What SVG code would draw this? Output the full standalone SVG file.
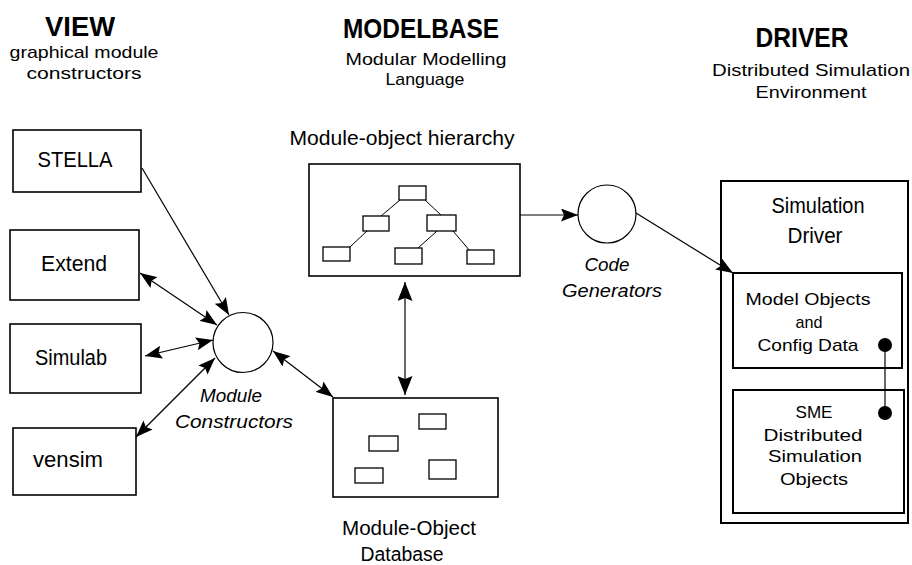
<svg xmlns="http://www.w3.org/2000/svg" width="912" height="565" viewBox="0 0 912 565">
<style>
text{font-family:"Liberation Sans",Arial,sans-serif;fill:#000;text-anchor:middle}
.h{font-weight:bold;font-size:28px}
.s{font-size:17px}
.n{font-size:22px}
.l{font-size:20px}
.i{font-size:18px;font-style:italic}
.d{font-size:17px}
.box{fill:#fff;stroke:#000;stroke-width:1.6}
.dbox{fill:#fff;stroke:#000;stroke-width:2}
.sm{fill:#fff;stroke:#000;stroke-width:1.3}
.circ{fill:#fff;stroke:#000;stroke-width:1.2}
.c{stroke:#000;stroke-width:1.2;fill:none}
.t{stroke:#000;stroke-width:1}
</style>
<defs>
<marker id="ah" markerUnits="userSpaceOnUse" markerWidth="18" markerHeight="13" refX="17" refY="6.5" orient="auto-start-reverse"><path d="M0,0 L17,6.5 L0,13 L3,6.5 z" fill="#000"/></marker>
<marker id="ahb" markerUnits="userSpaceOnUse" markerWidth="20" markerHeight="15" refX="19" refY="7.5" orient="auto-start-reverse"><path d="M0,0 L19,7.5 L0,15 L3,7.5 z" fill="#000"/></marker>
</defs>

<g id="headers">
<text class="h" x="80" y="36" textLength="70" lengthAdjust="spacingAndGlyphs">VIEW</text>
<text class="s" x="84" y="58" textLength="149" lengthAdjust="spacingAndGlyphs">graphical module</text>
<text class="s" x="84" y="79" textLength="115" lengthAdjust="spacingAndGlyphs">constructors</text>
<text class="h" x="421" y="38" textLength="156" lengthAdjust="spacingAndGlyphs">MODELBASE</text>
<text class="s" x="426" y="65" textLength="161" lengthAdjust="spacingAndGlyphs">Modular Modelling</text>
<text class="s" x="425" y="85" textLength="79" lengthAdjust="spacingAndGlyphs">Language</text>
<text class="h" x="802" y="47" textLength="93" lengthAdjust="spacingAndGlyphs">DRIVER</text>
<text class="s" x="811" y="76" textLength="198" lengthAdjust="spacingAndGlyphs">Distributed Simulation</text>
<text class="s" x="811" y="98" textLength="111" lengthAdjust="spacingAndGlyphs">Environment</text>
</g>

<g id="stella"><rect class="box" x="13" y="130" width="128" height="62"/><text class="n" x="75" y="167" textLength="75" lengthAdjust="spacingAndGlyphs">STELLA</text></g>
<g id="extend"><rect class="box" x="10" y="230" width="129" height="70"/><text class="n" x="74" y="271" textLength="66" lengthAdjust="spacingAndGlyphs">Extend</text></g>
<g id="simulab"><rect class="box" x="10" y="324" width="131" height="69"/><text class="n" x="71" y="365" textLength="72" lengthAdjust="spacingAndGlyphs">Simulab</text></g>
<g id="vensim"><rect class="box" x="13" y="428" width="123" height="67"/><text class="n" x="68" y="467" textLength="70" lengthAdjust="spacingAndGlyphs">vensim</text></g>

<g id="module-constructors">
<circle class="circ" cx="243" cy="342.5" r="30"/>
<text class="i" x="231" y="402" textLength="62" lengthAdjust="spacingAndGlyphs">Module</text>
<text class="i" x="234" y="428" textLength="118" lengthAdjust="spacingAndGlyphs">Constructors</text>
</g>

<g id="hierarchy">
<text class="l" x="402" y="145" textLength="225" lengthAdjust="spacingAndGlyphs">Module-object hierarchy</text>
<rect class="box" x="309" y="164" width="211" height="112"/>
<g class="t">
<line x1="400" y1="200" x2="381" y2="216"/>
<line x1="425" y1="200" x2="441" y2="215"/>
<line x1="367" y1="231" x2="350" y2="247"/>
<line x1="437" y1="231" x2="418" y2="248"/>
<line x1="453" y1="231" x2="470" y2="251"/>
</g>
<rect class="sm" x="399" y="186" width="27" height="14"/>
<rect class="sm" x="363" y="216" width="26" height="15"/>
<rect class="sm" x="427" y="215" width="29" height="16"/>
<rect class="sm" x="323" y="247" width="27" height="14"/>
<rect class="sm" x="395" y="248" width="27" height="16"/>
<rect class="sm" x="467" y="250" width="27" height="14"/>
</g>

<g id="database">
<rect class="box" x="333" y="398" width="165" height="99"/>
<rect class="sm" x="419" y="414" width="27" height="15"/>
<rect class="sm" x="369" y="436" width="29" height="15"/>
<rect class="sm" x="355" y="468" width="28" height="15"/>
<rect class="sm" x="429" y="460" width="27" height="19"/>
<text class="l" x="409" y="535" textLength="134" lengthAdjust="spacingAndGlyphs">Module-Object</text>
<text class="l" x="402" y="561" textLength="83" lengthAdjust="spacingAndGlyphs">Database</text>
</g>

<g id="code-generators">
<circle class="circ" cx="607" cy="214" r="29"/>
<text class="i" x="607" y="271" textLength="45" lengthAdjust="spacingAndGlyphs">Code</text>
<text class="i" x="612" y="297" textLength="100" lengthAdjust="spacingAndGlyphs">Generators</text>
</g>

<g id="simulation-driver">
<rect class="dbox" x="721" y="181" width="187" height="342"/>
<text class="n" x="818" y="213" font-size="21" textLength="93" lengthAdjust="spacingAndGlyphs">Simulation</text>
<text class="n" x="815" y="243" font-size="21" textLength="55" lengthAdjust="spacingAndGlyphs">Driver</text>
</g>
<g id="model-objects">
<rect class="dbox" x="733" y="273" width="169" height="95"/>
<text class="d" x="808" y="305" textLength="125" lengthAdjust="spacingAndGlyphs">Model Objects</text>
<text class="d" x="809" y="328" textLength="27" lengthAdjust="spacingAndGlyphs">and</text>
<text class="d" x="808" y="351" textLength="101" lengthAdjust="spacingAndGlyphs">Config Data</text>
</g>
<g id="sme">
<rect class="dbox" x="733" y="390" width="171" height="123"/>
<text class="d" x="814" y="418" textLength="37" lengthAdjust="spacingAndGlyphs">SME</text>
<text class="d" x="813" y="441" textLength="99" lengthAdjust="spacingAndGlyphs">Distributed</text>
<text class="d" x="815" y="462" textLength="94" lengthAdjust="spacingAndGlyphs">Simulation</text>
<text class="d" x="814" y="485" textLength="68" lengthAdjust="spacingAndGlyphs">Objects</text>
</g>

<g id="connectors">
<line class="c" x1="142" y1="168" x2="229" y2="315" marker-end="url(#ah)"/>
<line class="c" x1="140" y1="273" x2="217" y2="325" marker-start="url(#ah)" marker-end="url(#ah)"/>
<line class="c" x1="145" y1="356" x2="213" y2="340" marker-start="url(#ah)" marker-end="url(#ah)"/>
<line class="c" x1="136" y1="437" x2="215" y2="358" marker-start="url(#ah)" marker-end="url(#ah)"/>
<line class="c" x1="273" y1="351" x2="333" y2="397" marker-start="url(#ah)" marker-end="url(#ah)"/>
<line class="c" stroke-width="2" x1="405" y1="282" x2="405" y2="395" marker-start="url(#ahb)" marker-end="url(#ahb)"/>
<line class="c" stroke-width="1.6" x1="520" y1="215" x2="578" y2="215" marker-end="url(#ah)"/>
<line class="c" x1="636" y1="213" x2="733" y2="273" marker-end="url(#ah)"/>
<line class="c" stroke-width="2" x1="885" y1="345" x2="885" y2="413"/>
<circle cx="885" cy="345" r="7" fill="#000"/>
<circle cx="885" cy="413" r="7" fill="#000"/>
</g>
</svg>
